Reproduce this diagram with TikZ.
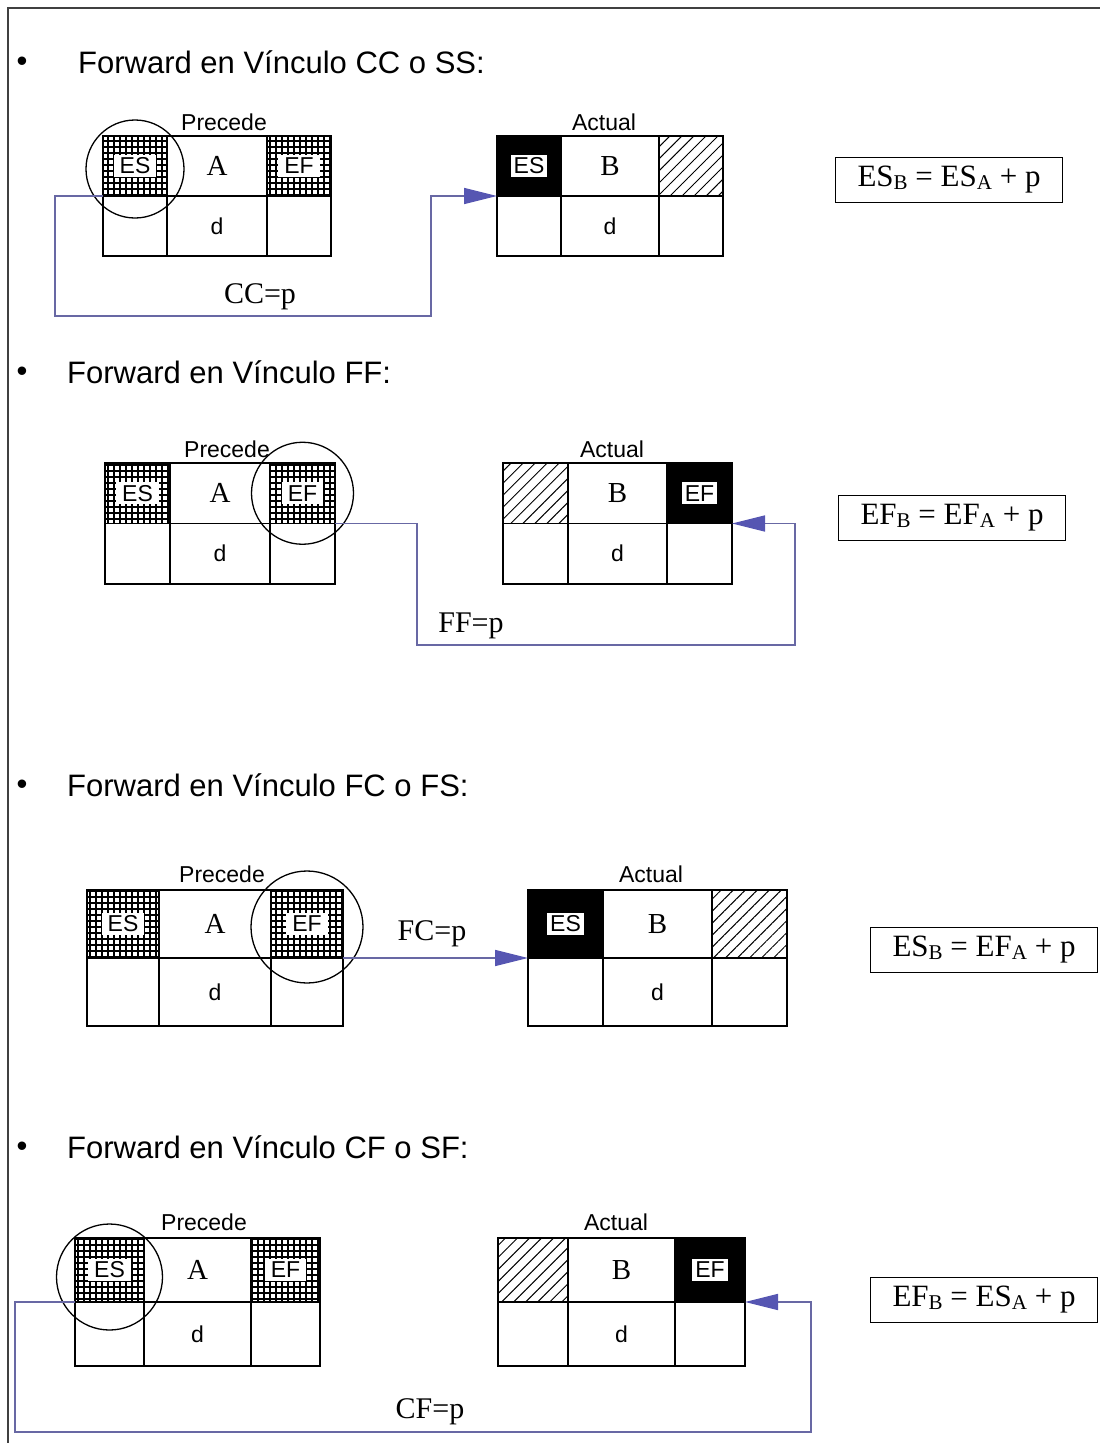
\documentclass[tikz,border=0pt]{standalone}
\usepackage{fontspec}
\setmainfont{Liberation Serif}
\setsansfont{Liberation Sans}
\usetikzlibrary{positioning,patterns.meta,arrows.meta}

\definecolor{linkblue}{RGB}{104,104,164}
\definecolor{tipblue}{RGB}{86,86,178}

\newcommand{\sz}[1]{\fontsize{#1pt}{#1pt}\selectfont}
\newcommand{\lo}[1]{\raisebox{-0.2ex}{\sz{21}#1}}

\tikzset{
  cell/.style={draw, line width=1.6pt, inner sep=0pt, outer sep=0pt},
  tag/.style={fill=white, inner ysep=3pt, font=\sffamily\sz{23}},
  gridcell/.style={pattern={Hatch[distance=6pt,line width=2pt]},
    label={[tag, inner xsep=6pt]center:#1}},
  blackcell/.style={fill=black, label={[tag, inner xsep=3pt]center:#1}},
  hatchcell/.style={pattern={Lines[angle=45,distance=8.5pt,line width=1pt]}},
  heading/.style={font=\sffamily\sz{31}, inner sep=0pt},
  boxtitle/.style={font=\sffamily\sz{23}, inner sep=0pt},
  focus/.style={circle, draw, line width=1.3pt, inner sep=0pt},
  formula/.style={draw, line width=1.3pt, minimum width=227pt, minimum height=45pt, font=\sz{31}},
  link/.style={draw=linkblue, line width=1.6pt},
  tip/.style={-{Triangle[length=33pt,width=16pt,color=tipblue]}},
  linklabel/.style={font=\sz{30}, inner sep=0pt},
  frame/.style={draw=black!75, line width=2.5pt}
}

% one activity box: name, x, y, side width, middle width, row height,
% left top cell, right top cell, letter
\newcommand{\taskbox}[9]{%
  \node[cell, anchor=north west, minimum width=#4pt, minimum height=#6pt, #7] (#1-l) at (#2,#3) {};
  \node[cell, right=0pt of #1-l, minimum width=#5pt, minimum height=#6pt, font=\sz{29}] (#1-m) {#9};
  \node[cell, right=0pt of #1-m, minimum width=#4pt, minimum height=#6pt, #8] (#1-r) {};
  \node[cell, below=0pt of #1-l, minimum width=#4pt, minimum height=#6pt] (#1-bl) {};
  \node[cell, below=0pt of #1-m, minimum width=#5pt, minimum height=#6pt, font=\sffamily\sz{23}] (#1-d) {d};
  \node[cell, below=0pt of #1-r, minimum width=#4pt, minimum height=#6pt] (#1-br) {};
}

\begin{document}
\begin{tikzpicture}[x=1pt,y=-1pt]
\useasboundingbox (0,0) rectangle (1100,1443);
\draw[frame] (8,1443) -- (8,8) -- (1100,8);

% CC o SS
\node[heading] (b1) at (22,64) {\textbullet};
\node[heading, anchor=west] (t1) at (78,62) {Forward en Vínculo CC o SS:};
\taskbox{pa1}{103}{136}{64}{100}{60}{gridcell=ES}{gridcell=EF}{A}
\taskbox{ab1}{497}{136}{64}{98}{60}{blackcell=ES}{hatchcell}{B}
\node[boxtitle] (pt1) at (224,122) {Precede};
\node[boxtitle] (at1) at (604,122) {Actual};
\node[focus, minimum size=98pt] (c1) at ([yshift=-3pt]pa1-l.center) {};
\coordinate (k1) at (55,316);
\coordinate (k2) at (431,316);
\draw[link, tip] (pa1-l.south west) -| (k1) -- (k2) |- (ab1-l.south west);
\node[linklabel] (l1) at (260,297) {CC=p};
\node[formula] (f1) at (949,180) {ES\lo{B} = ES\lo{A} + p};

% FF
\node[heading] (b2) at (22,374) {\textbullet};
\node[heading, anchor=west] (t2) at (67,372) {Forward en Vínculo FF:};
\taskbox{pa2}{105}{463}{65}{100}{60.5}{gridcell=ES}{gridcell=EF}{A}
\taskbox{ab2}{503}{463}{65}{99}{60.5}{hatchcell}{blackcell=EF}{B}
\node[boxtitle] (pt2) at (227,449) {Precede};
\node[boxtitle] (at2) at (612,449) {Actual};
\node[focus, minimum size=102pt] (c2) at (pa2-r.center) {};
\coordinate (k3) at (417,645);
\coordinate (k4) at (795,645);
\draw[link, tip] (pa2-r.south east) -| (k3) -- (k4) |- (ab2-r.south east);
\node[linklabel] (l2) at (471,626) {FF=p};
\node[formula] (f2) at (952,518) {EF\lo{B} = EF\lo{A} + p};

% FC o FS
\node[heading] (b3) at (22,787) {\textbullet};
\node[heading, anchor=west] (t3) at (67,785) {Forward en Vínculo FC o FS:};
\taskbox{pa3}{87}{890}{72}{112}{68}{gridcell=ES}{gridcell=EF}{A}
\taskbox{ab3}{528}{890}{75}{109}{68}{blackcell=ES}{hatchcell}{B}
\node[boxtitle] (pt3) at (222,874) {Precede};
\node[boxtitle] (at3) at (651,874) {Actual};
\node[focus, minimum size=112pt] (c3) at ([yshift=-3pt]pa3-r.center) {};
\draw[link, tip] (pa3-r.south east) -- (ab3-l.south west);
\node[linklabel] (l3) at (432,934) {FC=p};
\node[formula] (f3) at (984,950) {ES\lo{B} = EF\lo{A} + p};

% CF o SF
\node[heading] (b4) at (22,1149) {\textbullet};
\node[heading, anchor=west] (t4) at (67,1147) {Forward en Vínculo CF o SF:};
\taskbox{pa4}{75}{1238}{69}{107}{64}{gridcell=ES}{gridcell=EF}{A}
\taskbox{ab4}{498}{1238}{70}{107}{64}{hatchcell}{blackcell=EF}{B}
\node[boxtitle] (pt4) at (204,1222) {Precede};
\node[boxtitle] (at4) at (616,1222) {Actual};
\node[focus, minimum size=106pt] (c4) at ([yshift=-7pt]pa4-l.center) {};
\coordinate (k7) at (15,1432);
\coordinate (k8) at (811,1432);
\draw[link, tip] (pa4-l.south west) -| (k7) -- (k8) |- (ab4-r.south east);
\node[linklabel] (l4) at (430,1412) {CF=p};
\node[formula] (f4) at (984,1300) {EF\lo{B} = ES\lo{A} + p};
\end{tikzpicture}
\end{document}
